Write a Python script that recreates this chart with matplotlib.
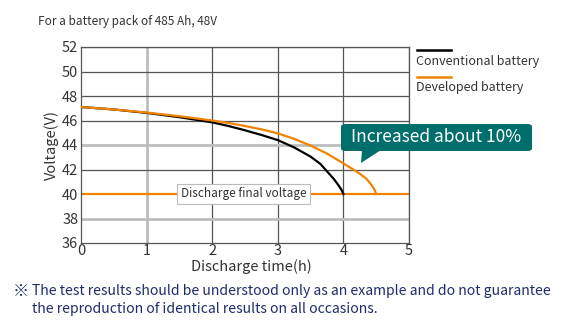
import matplotlib.pyplot as plt
from matplotlib.patches import FancyBboxPatch, Polygon

plt.rcParams['font.family'] = ['Noto Sans CJK JP', 'DejaVu Sans']

# discharge curves, hours vs volts
conv_time = [0, 0.5, 1, 1.5, 2, 2.25, 2.5, 2.75, 3, 3.25, 3.5, 3.65, 3.75, 3.85, 3.92, 3.97, 4.0]
conv_volt = [47.1, 46.9, 46.62, 46.27, 45.85, 45.55, 45.2, 44.82, 44.4, 43.8, 43.05, 42.45,
             41.85, 41.25, 40.75, 40.35, 40.0]
dev_time = [0, 0.5, 1, 1.5, 2, 2.25, 2.5, 2.75, 3, 3.25, 3.5, 3.75, 4, 4.15, 4.25, 4.35,
            4.42, 4.47, 4.5]
dev_volt = [47.1, 46.9, 46.65, 46.35, 46.0, 45.8, 45.55, 45.28, 44.95, 44.5, 43.95, 43.3,
            42.5, 42.0, 41.65, 41.25, 40.8, 40.4, 40.0]
final_voltage = 40
x_ticks = [0, 1, 2, 3, 4, 5]
y_ticks = [36, 38, 40, 42, 44, 46, 48, 50, 52]

ORANGE = '#f08300'
TEAL = '#006f6b'
GRID = '#555555'
LIGHT = '#bdbdbd'
TXT = '#333333'
NAVY = '#1f2d6b'

fig = plt.figure(figsize=(5.78, 3.28), dpi=100)
W, H = 578, 328
ax = fig.add_axes([81 / W, 85 / H, 328 / W, 196 / H])
ax.set_xlim(0, 5)
ax.set_ylim(36, 52)

# grid: most lines dark, a few drawn light gray
for x in x_ticks[1:]:
    if x == 1:
        ax.axvline(x, color=LIGHT, lw=2, zorder=1)
    else:
        ax.axvline(x, color=GRID, lw=0.9, zorder=1)
for y in y_ticks[1:]:
    if y in (38, 44):
        ax.axhline(y, color=LIGHT, lw=2, zorder=1)
    elif y != final_voltage:
        ax.axhline(y, color=GRID, lw=0.9, zorder=1)
ax.axhline(final_voltage, color=ORANGE, lw=1.6, zorder=2)

for s in ax.spines.values():
    s.set_color(GRID)
    s.set_linewidth(0.9)

ax.plot(conv_time, conv_volt, color='black', lw=1.6, zorder=3)
ax.plot(dev_time, dev_volt, color=ORANGE, lw=1.6, zorder=3)

ax.set_xticks(x_ticks)
ax.set_yticks(y_ticks)
ax.tick_params(length=0, labelsize=10.5, labelcolor=TXT, pad=2)
ax.tick_params(axis='x', pad=1)
ax.set_xlabel('Discharge time(h)', fontsize=10.5, color=TXT)
ax.xaxis.set_label_coords(0.52, -0.085)
ax.set_ylabel('Voltage(V)', fontsize=10.5, color=TXT, labelpad=2)

ax.text(2.48, final_voltage, 'Discharge final voltage', fontsize=8.5, color=TXT,
        ha='center', va='center', zorder=4,
        bbox=dict(boxstyle='square,pad=0.3', fc='white', ec='#bbbbbb', lw=0.8))

fig.text(38 / W, 1 - 22 / H, 'For a battery pack of 485 Ah, 48V',
         fontsize=8.5, color=TXT, va='center')

# legend drawn by hand on the right
fig.add_artist(plt.Line2D([417 / W, 451 / W], [1 - 50 / H] * 2, color='black', lw=1.8))
fig.text(416 / W, 1 - 62 / H, 'Conventional battery', fontsize=9, color=TXT, va='center')
fig.add_artist(plt.Line2D([417 / W, 451 / W], [1 - 77 / H] * 2, color=ORANGE, lw=1.8))
fig.text(416 / W, 1 - 88 / H, 'Developed battery', fontsize=9, color=TXT, va='center')

# callout bubble
box = FancyBboxPatch((341 / W, 1 - 151 / H), 191 / W, 27 / H,
                     boxstyle='round,pad=0,rounding_size=0.008',
                     transform=fig.transFigure, fc=TEAL, ec='none')
fig.add_artist(box)
tail = Polygon([(362 / W, 1 - 150 / H), (381 / W, 1 - 150 / H), (361 / W, 1 - 163 / H)],
               closed=True, transform=fig.transFigure, fc=TEAL, ec='none')
fig.add_artist(tail)
fig.text(436 / W, 1 - 137 / H, 'Increased about 10%', fontsize=12.5, color='white',
         ha='center', va='center')

# footnote
fig.text(13 / W, 1 - 291 / H, '※', fontsize=11.5, color=NAVY, va='center')
fig.text(32 / W, 1 - 291 / H, 'The test results should be understood only as an example and do not guarantee',
         fontsize=10.1, color=NAVY, va='center')
fig.text(32 / W, 1 - 309 / H, 'the reproduction of identical results on all occasions.',
         fontsize=10.1, color=NAVY, va='center')

fig.savefig('out.png', dpi=100)
